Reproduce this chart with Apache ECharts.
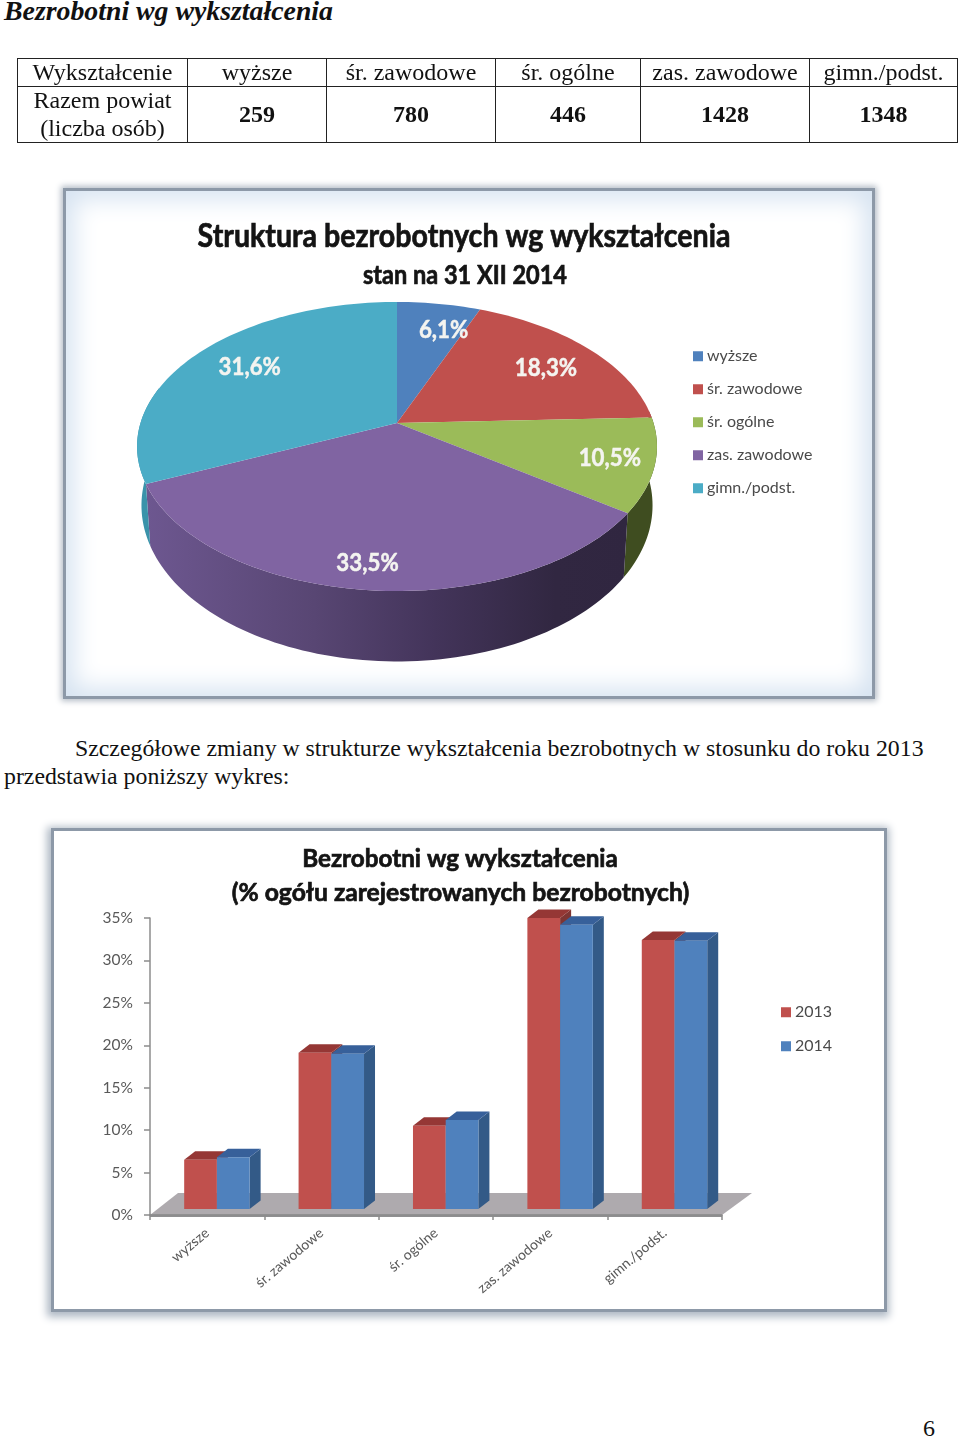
<!DOCTYPE html>
<html lang="pl">
<head>
<meta charset="utf-8">
<script src="https://cdn.jsdelivr.net/npm/echarts@6/dist/echarts.min.js"></script>
<style>
html,body{margin:0;padding:0;background:#fff;}
#page{position:relative;width:960px;height:1438px;overflow:hidden;font-family:"Liberation Serif",serif;color:#111;}
#chart{position:absolute;left:0;top:0;width:960px;height:1438px;z-index:2;}
.t{position:absolute;white-space:nowrap;transform-origin:0 50%;}
.frame{position:absolute;box-sizing:border-box;z-index:1;}
#f1{left:63px;top:188px;width:812px;height:511px;border:3px solid #8d99a8;background:#fff;
 box-shadow:0 0 6px 2px #b4bcc6, inset 0 0 24px 8px #d6e3f1;}
#f2{left:51px;top:828px;width:836px;height:484px;border:3px solid #8d99a8;background:#fff;
 box-shadow:-1px 2px 8px 3px #aeb8c4;}
table{position:absolute;left:17px;top:58px;width:940px;border-collapse:collapse;table-layout:fixed;font-size:24px;z-index:3;}
td{border:1px solid #222;text-align:center;padding:0;line-height:27px;overflow:hidden;white-space:nowrap;}
tr.h td{height:27px;}
tr.v td{height:55px;font-weight:bold;font-size:24px;}
tr.v td:first-child{font-weight:normal;font-size:24px;line-height:27.5px;}
</style>
</head>
<body>
<div id="page">
  <div class="t" style="left:4px;top:-4px;font:italic bold 27.8px 'Liberation Serif';line-height:30px;">Bezrobotni wg wykształcenia</div>
  <table id="tbl"></table>
  <div class="frame" id="f1"></div>
  <div class="t" style="left:75px;top:734px;font-size:23.8px;line-height:28px;">Szczegółowe zmiany w strukturze wykształcenia bezrobotnych w stosunku do roku 2013</div>
  <div class="t" style="left:4px;top:762px;font-size:23.8px;line-height:28px;">przedstawia poniższy wykres:</div>
  <div class="frame" id="f2"></div>
  <div class="t" style="left:923px;top:1414px;font-size:24px;line-height:28px;">6</div>
  <div id="chart"></div>
</div>
<script>
// ---- data ----
const tableHeader = 'Wykształcenie';
const tableRowHead = ['Razem powiat', '(liczba osób)'];
const categories = ['wyższe', 'śr. zawodowe', 'śr. ogólne', 'zas. zawodowe', 'gimn./podst.'];
const counts = [259, 780, 446, 1428, 1348];
const share2013 = [5.8, 18.4, 9.8, 34.3, 31.7];
const share2014 = [6.1, 18.3, 10.5, 33.5, 31.6];
const yearNames = ['2013', '2014'];
const pieTitle = ['Struktura bezrobotnych wg wykształcenia', 'stan na 31 XII 2014'];
const barTitle = ['Bezrobotni wg wykształcenia', '(% ogółu zarejestrowanych bezrobotnych)'];

// ---- styling ----
const pieColors = ['#4f81bd', '#c0504d', '#9bbb59', '#8064a2', '#4bacc6'];
const wallColors = ['#35557f', '#803634', '#3f4d20', null, '#3a93aa'];
const CAL = 'Lato, "Open Sans", sans-serif';

// table (built from the same arrays)
document.getElementById('tbl').innerHTML =
  '<colgroup><col style="width:170px"><col style="width:139px"><col style="width:169px"><col style="width:145px"><col style="width:169px"><col style="width:148px"></colgroup>' +
  '<tr class="h"><td>' + tableHeader + '</td>' + categories.map(c => '<td>' + c + '</td>').join('') + '</tr>' +
  '<tr class="v"><td>' + tableRowHead.join('<br>') + '</td>' + counts.map(c => '<td>' + c + '</td>').join('') + '</tr>';

// ---- perspective pie: a circle seen through a homography ----
const PIE = {cx: 397, cy: 423, a: 256.5, b: 140.7, p: 0.1626, wallX: 0.983, wallY: 1.08, wallD: 57};
const total = counts.reduce((s, v) => s + v, 0);
function startAngle(i) { let s = 0; for (let k = 0; k < i; k++) s += counts[k]; return s / total * 360; }
function project(deg, f) {
  const r = deg * Math.PI / 180, u = Math.sin(r) * f, v = -Math.cos(r) * f, d = 1 - PIE.p * v;
  return [PIE.a * u / d, PIE.b * v / d];
}
function arcPts(a0, a1) {
  const pts = [], n = Math.max(2, Math.ceil((a1 - a0) / 1.5));
  for (let i = 0; i <= n; i++) pts.push(project(a0 + (a1 - a0) * i / n, 1));
  return pts;
}
function faceSeries(i) {
  return {
    type: 'custom', name: categories[i], coordinateSystem: 'none', z: 3, silent: true, animation: false,
    itemStyle: {color: pieColors[i]}, color: pieColors[i],
    data: [[counts[i]]],
    renderItem: function (params, api) {
      const a0 = startAngle(i), a1 = a0 + api.value(0) / total * 360;
      const pts = [[0, 0]].concat(arcPts(a0, a1)).map(q => [PIE.cx + q[0], PIE.cy + q[1]]);
      return {type: 'polygon', shape: {points: pts}, style: {fill: pieColors[i]}};
    }
  };
}
const wallSeries = {
  type: 'custom', coordinateSystem: 'none', z: 2, silent: true, animation: false,
  data: counts.map((c, i) => [i, c]),
  renderItem: function (params, api) {
    const i = api.value(0), s = startAngle(i), e = s + api.value(1) / total * 360;
    const a0 = Math.max(s, 85), a1 = Math.min(e, 285);
    if (a1 <= a0) return {type: 'group', children: []};
    const top = arcPts(a0, a1).map(q => [PIE.cx + q[0], PIE.cy + q[1]]);
    const bottom = arcPts(a0, a1).reverse().map(q => [PIE.cx + q[0] * PIE.wallX, PIE.cy + q[1] * PIE.wallY + PIE.wallD]);
    const fill = wallColors[i] || new echarts.graphic.LinearGradient(0, 0, 1, 0, [
      {offset: 0, color: '#6d5790'}, {offset: 0.35, color: '#584673'},
      {offset: 0.6, color: '#43345a'}, {offset: 0.85, color: '#312741'}, {offset: 1, color: '#302640'}]);
    return {type: 'polygon', shape: {points: top.concat(bottom)}, style: {fill: fill}};
  }
};
const labelFrac = [0.75, 0.75, 0.84, 0.85, 0.74];
const labelNudge = [[14, 0], [2, 2], [-2, 0], [-4, 2], [2, -2]];
const pieLabels = {
  type: 'custom', coordinateSystem: 'none', z: 4, silent: true, animation: false,
  data: counts.map((c, i) => [i, c]),
  renderItem: function (params, api) {
    const i = api.value(0), mid = startAngle(i) + api.value(1) / total * 180;
    const q = project(mid, labelFrac[i]);
    const pct = (api.value(1) / total * 100).toFixed(1).replace('.', ',') + '%';
    return {type: 'text', x: PIE.cx + q[0] + labelNudge[i][0], y: PIE.cy + q[1] + labelNudge[i][1], scaleX: 0.93,
      style: {text: pct, fill: '#f4f4f0', stroke: '#f4f4f0', lineWidth: 0.5, font: 'bold 24px ' + CAL, textAlign: 'center', textVerticalAlign: 'middle'}};
  }
};

// ---- bars with a drawn depth ----
const DEPTH = {x: 11, y: 8.5, lift: 6, shift: 9.7, barShare: 0.286};
function barSeries(name, vals, side, front, top, right) {
  return {
    type: 'custom', name: name, coordinateSystem: 'cartesian2d', z: 3 + side, silent: true, animation: false, clip: false,
    itemStyle: {color: front}, color: front,
    encode: {x: 0, y: 1},
    data: vals.map((v, i) => [i, v]),
    renderItem: function (params, api) {
      const i = api.value(0), w = api.size([1, 0])[0] * DEPTH.barShare;
      const pv = api.coord([i, api.value(1)]), p0 = api.coord([i, 0]);
      const x0 = pv[0] + DEPTH.shift + (side - 1) * w, x1 = x0 + w;
      const yt = pv[1] - DEPTH.lift, yb = p0[1] - DEPTH.lift, dx = DEPTH.x, dy = DEPTH.y;
      return {type: 'group', children: [
        {type: 'polygon', shape: {points: [[x1, yt], [x1 + dx, yt - dy], [x1 + dx, yb - dy], [x1, yb]]}, style: {fill: right}},
        {type: 'polygon', shape: {points: [[x0, yt], [x1, yt], [x1 + dx, yt - dy], [x0 + dx, yt - dy]]}, style: {fill: top}},
        {type: 'rect', shape: {x: x0, y: yt, width: w, height: yb - yt}, style: {fill: front}}
      ]};
    }
  };
}
const floorSeries = {
  type: 'custom', coordinateSystem: 'cartesian2d', z: 1, silent: true, animation: false, clip: false,
  encode: {x: 0, y: 1},
  data: [[0, 0]],
  renderItem: function (params, api) {
    const p0 = api.coord([0, 0]), cs = params.coordSys, l = cs.x, r = cs.x + cs.width, y = p0[1];
    return {type: 'group', children: [
      {type: 'polygon', shape: {points: [[l, y], [r, y], [r + 30, y - 22], [l + 28, y - 22]]}, style: {fill: '#aeaaae'}},
      {type: 'rect', shape: {x: l, y: y - 0.5, width: r - l, height: 2.5}, style: {fill: '#8f8f91'}}
    ]};
  }
};

function bigText(text, x, y, size, sx) {
  return {type: 'text', x: x, y: y, scaleX: sx, z: 10, silent: true,
    style: {text: text, fill: '#141414', stroke: '#141414', lineWidth: 0.7, font: 'bold ' + size + 'px ' + CAL, textAlign: 'center', textVerticalAlign: 'middle'}};
}

const chart = echarts.init(document.getElementById('chart'), null, {renderer: 'canvas'});
chart.setOption({
  animation: false,
  backgroundColor: 'transparent',
  tooltip: {show: false},
  graphic: {elements: [
    bigText(pieTitle[0], 464, 236, 33, 0.866),
    bigText(pieTitle[1], 465, 276, 26, 0.905),
    bigText(barTitle[0], 460, 859, 25, 0.97),
    bigText(barTitle[1], 460.5, 893, 25, 0.987)
  ]},
  legend: [
    {data: categories, orient: 'vertical', left: 688, top: 343, itemWidth: 10, itemHeight: 10, itemGap: 16.5,
     icon: 'rect', selectedMode: false, textStyle: {color: '#4a4a4a', fontFamily: CAL, fontSize: 16, lineHeight: 16.5, padding: [0, 0, 0, -1]}},
    {data: yearNames, orient: 'vertical', left: 776, top: 999, itemWidth: 10, itemHeight: 10, itemGap: 17.5,
     icon: 'rect', selectedMode: false, textStyle: {color: '#4a4a4a', fontFamily: CAL, fontSize: 16, lineHeight: 16.5, padding: [0, 0, 0, -1]}}
  ],
  grid: {left: 150, right: 238, top: 918, bottom: 223},
  xAxis: {type: 'category', data: categories, z: 5,
    axisLine: {lineStyle: {color: '#8c8c8c', width: 1.5}},
    axisTick: {show: true, alignWithLabel: false, length: 5, lineStyle: {color: '#8c8c8c', width: 1.5}},
    axisLabel: {rotate: 40, margin: 16, interval: 0, color: '#595959', fontFamily: CAL, fontSize: 14}},
  yAxis: {type: 'value', min: 0, max: 35, interval: 5, z: 5, splitLine: {show: false},
    axisLine: {show: true, lineStyle: {color: '#8c8c8c', width: 1.5}},
    axisTick: {show: true, length: 6, lineStyle: {color: '#8c8c8c', width: 1.5}},
    axisLabel: {formatter: '{value}%', margin: 17, color: '#595959', fontFamily: CAL, fontSize: 15.5}},
  series: [wallSeries]
    .concat(categories.map((c, i) => faceSeries(i)))
    .concat([pieLabels, floorSeries,
      barSeries(yearNames[0], share2013, 0, '#c0504d', '#953735', '#7e3533'),
      barSeries(yearNames[1], share2014, 1, '#4f81bd', '#37609a', '#335a87')])
});
</script>
</body>
</html>
